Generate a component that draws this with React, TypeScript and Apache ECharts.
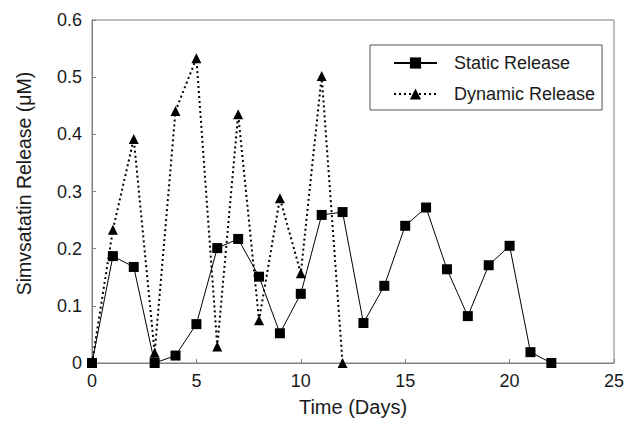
import React, { useEffect, useRef } from "react";
import * as echarts from "echarts";

const days = [0, 1, 2, 3, 4, 5, 6, 7, 8, 9, 10, 11, 12, 13, 14, 15, 16, 17, 18, 19, 20, 21, 22];
const staticRelease = [0, 0.187, 0.168, 0.0, 0.013, 0.068, 0.201, 0.217, 0.151, 0.052, 0.121, 0.259, 0.264, 0.07, 0.135, 0.24, 0.272, 0.164, 0.082, 0.171, 0.205, 0.019, 0.0];
const dynamicDays = [0, 1, 2, 3, 4, 5, 6, 7, 8, 9, 10, 11, 12];
const dynamicRelease = [0, 0.233, 0.392, 0.018, 0.441, 0.533, 0.029, 0.435, 0.075, 0.288, 0.157, 0.502, 0.0];

const FONT = "'Liberation Sans', Arial, sans-serif";
const TXT = "#1a1a1a";

export default function App() {
  const ref = useRef<HTMLDivElement>(null);
  useEffect(() => {
    if (!ref.current) return;
    const chart = echarts.init(ref.current, undefined, { renderer: "svg" });
    chart.setOption({
      animation: false,
      backgroundColor: "#fff",
      textStyle: { fontFamily: FONT },
      grid: {
        left: 92,
        right: 12,
        top: 20,
        bottom: 59,
        show: true,
        borderColor: "#808080",
        borderWidth: 1,
        containLabel: false,
      },
      legend: {
        left: 370,
        top: 45,
        orient: "vertical",
        borderColor: "#555",
        borderWidth: 1,
        borderRadius: 0,
        padding: [9, 7, 7, 23],
        itemWidth: 43,
        itemHeight: 14,
        itemGap: 13,
        textStyle: { fontSize: 18, color: TXT, fontFamily: FONT, padding: [0, 0, 0, 12] },
        data: ["Static Release", "Dynamic Release"],
      },
      xAxis: {
        type: "value",
        min: 0,
        max: 25,
        interval: 5,
        name: "Time (Days)",
        nameLocation: "middle",
        nameGap: 34,
        nameTextStyle: { fontSize: 20, color: TXT, fontFamily: FONT },
        axisLine: { lineStyle: { color: "#808080", width: 1 } },
        axisTick: { inside: true, length: 4, lineStyle: { color: "#808080" } },
        axisLabel: { fontSize: 18, color: TXT, fontFamily: FONT, margin: 9 },
        splitLine: { show: false },
      },
      yAxis: {
        type: "value",
        min: 0,
        max: 0.6,
        interval: 0.1,
        name: "Simvsatatin Release (μM)",
        nameLocation: "middle",
        nameGap: 58,
        nameTextStyle: { fontSize: 19.5, color: TXT, fontFamily: FONT, padding: [0, 0, 0, 16] },
        axisLine: { show: true, lineStyle: { color: "#808080", width: 1 } },
        axisTick: { show: true, inside: true, length: 4, lineStyle: { color: "#808080" } },
        axisLabel: { fontSize: 18, color: TXT, fontFamily: FONT, margin: 10 },
        splitLine: { show: false },
      },
      series: [
        {
          name: "Static Release",
          type: "line",
          data: days.map((d, i) => [d, staticRelease[i]]),
          symbol: "rect",
          symbolSize: 10,
          itemStyle: { color: "#000" },
          lineStyle: { color: "#000", width: 1, type: "solid" },
          z: 2,
        },
        {
          name: "Dynamic Release",
          type: "line",
          data: dynamicDays.map((d, i) => [d, dynamicRelease[i]]),
          symbol: "triangle",
          symbolSize: 10,
          itemStyle: { color: "#000" },
          lineStyle: { color: "#000", width: 2, type: [2, 3] },
          z: 3,
        },
      ],
    });
    return () => chart.dispose();
  }, []);
  return <div ref={ref} style={{ width: 627, height: 422, position: "absolute", left: 0, top: 0 }} />;
}
